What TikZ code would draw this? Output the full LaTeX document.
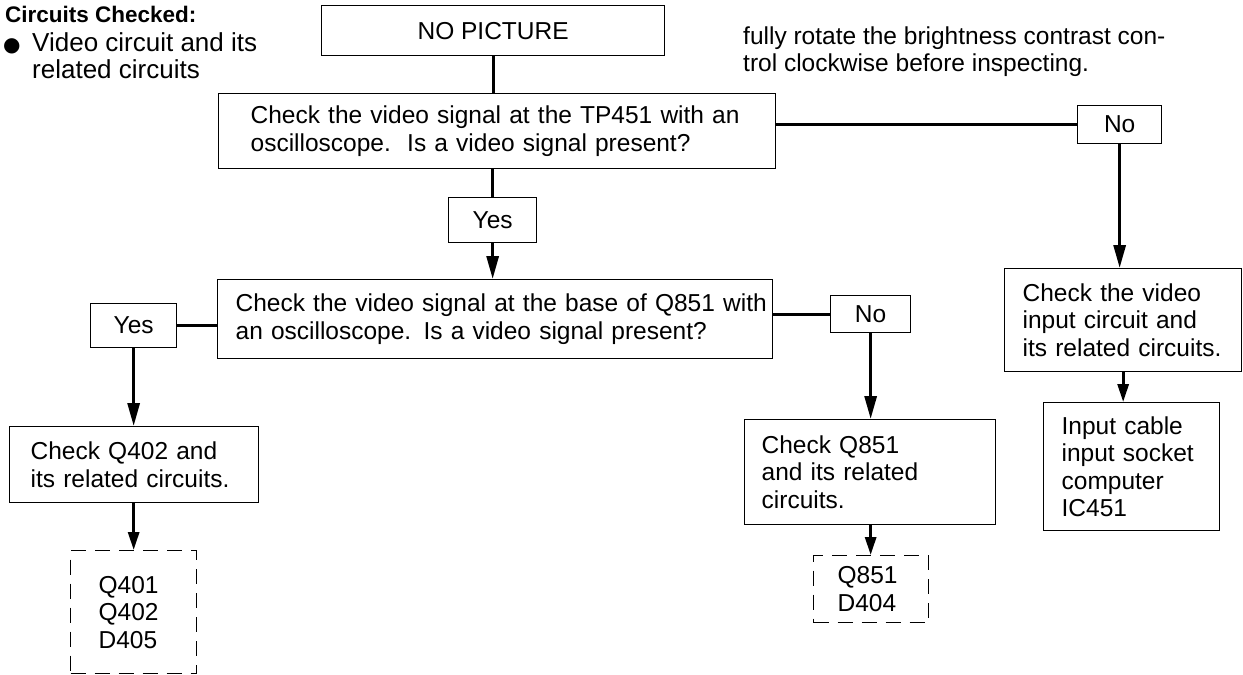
\documentclass[tikz,border=0pt]{standalone}
\usepackage{fontspec}
\setmainfont{Liberation Sans}
\newfontfamily\symbfont{DejaVu Sans}
\usetikzlibrary{arrows.meta}
\newcommand\bodyfont{\fontsize{24.5bp}{27.5bp}\selectfont}
\newcommand\listfont{\fontsize{26bp}{27.5bp}\selectfont}
\begin{document}
\begin{tikzpicture}[x=1bp,y=-1bp,
  box/.style={draw, line width=1.3bp, inner ysep=0pt, align=left, font=\bodyfont, anchor=north west},
  dbox/.style={box, dash pattern=on 15bp off 9bp},
  lbl/.style={draw, line width=1.3bp, font=\bodyfont, inner sep=0pt, anchor=north west},
  txt/.style={anchor=base west, inner sep=0pt, font=\bodyfont},
  link/.style={line width=3bp},
  flow/.style={line width=3bp, -{Triangle[length=23bp,width=12bp]}},
  sflow/.style={line width=3bp, -{Triangle[length=18bp,width=11bp]}},
]
\fill[white] (0,0) rectangle (1243,675);
\useasboundingbox (0,0) rectangle (1243,675);

% heading and notes
\node[txt, font=\bfseries\fontsize{22.5bp}{26bp}\selectfont] (hdr) at (5,23) {Circuits Checked:};
\node[txt, font=\symbfont\fontsize{20bp}{20bp}\selectfont] (bul) at (3,52) {●};
\node[txt, font=\listfont] (item1) at (32,52) {Video circuit and its};
\node[txt, font=\listfont] (item2) at (32,79) {related circuits};
\node[txt] (note1) at (743,45) {fully rotate the brightness contrast con-};
\node[txt] (note2) at (743,72) {trol clockwise before inspecting.};

% flow chart boxes
\node[lbl, minimum width=343bp, minimum height=50bp] (start) at (321,5) {NO PICTURE};
\node[box, text width=493bp, inner xsep=32bp, minimum height=75bp] (q1) at (218,93)
  {\mbox{Check the video signal at the TP451 with an}\\\mbox{oscilloscope.\ \ Is a video signal present?}};
\node[lbl, minimum width=84bp, minimum height=38bp] (no1) at (1077,105) {No};
\node[lbl, minimum width=88bp, minimum height=45bp] (yes1) at (448,197) {Yes};
\node[box, text width=519bp, inner xsep=18bp, minimum height=79bp] (q2) at (217,279)
  {\mbox{Check the video signal at the base of Q851 with}\\\mbox{an oscilloscope. Is a video signal present?}};
\node[lbl, minimum width=80bp, minimum height=37bp] (no2) at (830,295) {No};
\node[lbl, minimum width=86bp, minimum height=44bp] (yes2) at (90,303) {Yes};
\node[box, text width=201bp, inner xsep=18bp, minimum height=103bp] (vin) at (1004,268)
  {\mbox{Check the video}\\\mbox{input circuit and}\\\mbox{its related circuits.}};
\node[box, text width=207bp, inner xsep=21bp, minimum height=76bp] (chk402) at (9,426)
  {\mbox{Check Q402 and}\\\mbox{its related circuits.}};
\node[box, text width=217bp, inner xsep=17bp, minimum height=105bp] (chk851) at (744,419)
  {\mbox{Check Q851}\\\mbox{and its related}\\\mbox{circuits.}};
\node[box, text width=140bp, inner xsep=18bp, minimum height=128bp] (inp) at (1043,402)
  {\mbox{Input cable}\\\mbox{input socket}\\\mbox{computer}\\\mbox{IC451}};
\node[dbox, text width=70bp, inner xsep=28bp, minimum height=123bp] (d405) at (70,550)
  {Q401\\Q402\\D405};
\node[dbox, text width=67bp, inner xsep=24bp, minimum height=67bp] (d404) at (813,555)
  {Q851\\D404};

% connectors
\draw[link] (start.south) -- (start.south |- q1.north);
\draw[link] (q1.east |- no1.west) -- (no1.west);
\draw[link] (yes1.north |- q1.south) -- (yes1.north);
\draw[flow] (yes1.south) -- (yes1.south |- q2.north);
\draw[link] (q2.east |- no2.west) -- (no2.west);
\draw[link] (q2.west |- yes2.east) -- (yes2.east);
\draw[flow] (yes2.south) -- (yes2.south |- chk402.north);
\draw[sflow] (yes2.south |- chk402.south) -- (yes2.south |- d405.north);
\draw[flow] (no2.south) -- (no2.south |- chk851.north);
\draw[sflow] (no2.south |- chk851.south) -- (no2.south |- d404.north);
\draw[flow] (no1.south) -- (no1.south |- vin.north);
\draw[sflow] (vin.south) -- (vin.south |- inp.north);
\end{tikzpicture}
\end{document}
